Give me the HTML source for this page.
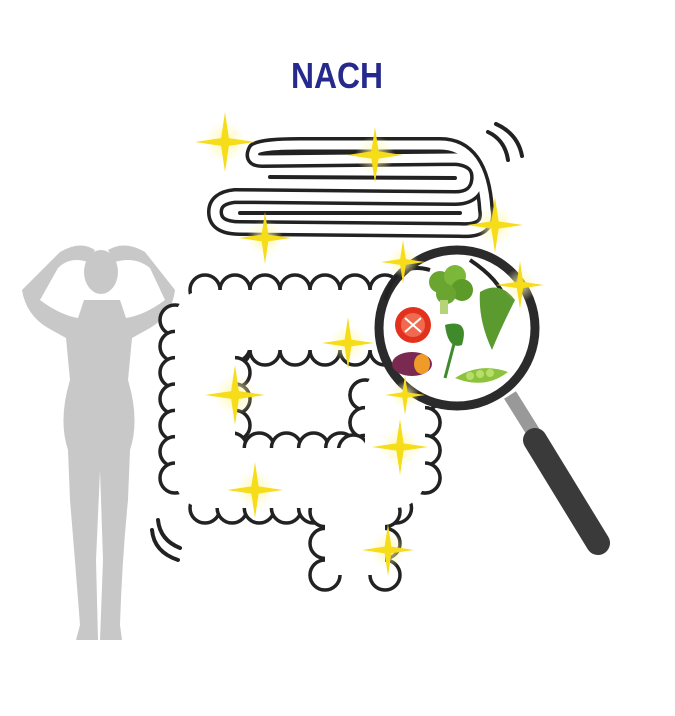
<!DOCTYPE html>
<html><head><meta charset="utf-8">
<style>
html,body{margin:0;padding:0;background:#fff;}
svg{display:block;}
</style></head>
<body>
<svg id="art" width="675" height="716" viewBox="0 0 675 716" xmlns="http://www.w3.org/2000/svg">
<defs>
<radialGradient id="glow"><stop offset="0" stop-color="#fff8b0" stop-opacity="0.9"/><stop offset="1" stop-color="#fff8b0" stop-opacity="0"/></radialGradient>
</defs>
<rect width="675" height="716" fill="#fff"/>
<text x="337" y="88" text-anchor="middle" textLength="92" lengthAdjust="spacingAndGlyphs" font-family="Liberation Sans, sans-serif" font-weight="bold" font-size="36" fill="#262a8c">NACH</text>

<!-- silhouette -->
<g fill="#c8c8c8">
<ellipse cx="101" cy="272" rx="17" ry="22"/>
<path d="M60 252 Q80 240 95 250 L88 262 Q70 256 58 268 L40 300 Q60 315 78 318 L84 300 L120 300 L126 318 Q145 315 165 300 L150 268 Q135 256 115 262 L108 250 Q125 240 145 252 L175 290 Q172 315 150 328 L132 338 L128 380 Q140 420 130 450 L128 500 Q122 560 120 625 L122 640 L100 640 L103 560 L100 470 L96 560 L98 640 L76 640 L80 625 Q75 560 70 500 L68 450 Q58 420 70 380 L66 338 L48 328 Q26 315 22 290 Z"/>
</g>

<!-- motion lines -->
<g fill="none" stroke="#222" stroke-width="4" stroke-linecap="round">
<path d="M488 132 Q505 140 508 160"/><path d="M496 124 Q518 134 522 156"/>
<path d="M158 520 Q160 540 180 548"/><path d="M152 530 Q154 552 178 560"/>
</g>

<!-- small intestine -->
<g fill="none" stroke-linecap="round" stroke-linejoin="round">
<path d="M255 150 Q250 160 262 160 L455 158 Q480 160 478 180 Q476 198 455 198 L235 196 Q215 198 215 212 Q215 228 240 228 L460 230 Q490 232 486 210 Q482 145 440 145 L300 145 Q262 145 255 150" stroke="#222" stroke-width="16"/>
<path d="M255 150 Q250 160 262 160 L455 158 Q480 160 478 180 Q476 198 455 198 L235 196 Q215 198 215 212 Q215 228 240 228 L460 230 Q490 232 486 210 Q482 145 440 145 L300 145 Q262 145 255 150" stroke="#fff" stroke-width="9"/>
<path d="M240 213 L460 213" stroke="#222" stroke-width="4"/>
<path d="M270 177 L455 178" stroke="#222" stroke-width="4"/>
</g>

<!-- large intestine -->
<g id="colon"></g>

<!-- magnifier -->
<g>
<line x1="510" y1="395" x2="535" y2="435" stroke="#999" stroke-width="14"/>
<line x1="535" y1="440" x2="598" y2="543" stroke="#3a3a3a" stroke-width="24" stroke-linecap="round"/>
<circle cx="457" cy="328" r="78" fill="#fff" stroke="#2b2b2b" stroke-width="9"/>
<path d="M385 300 Q395 260 430 270 M470 260 Q500 280 505 300" stroke="#222" stroke-width="4" fill="none"/>
<g><circle cx="440" cy="282" r="11" fill="#6aa532"/><circle cx="455" cy="276" r="11" fill="#7bb83a"/><circle cx="462" cy="290" r="11" fill="#5c9a2a"/><circle cx="446" cy="294" r="10" fill="#6aa532"/><rect x="440" y="300" width="8" height="14" fill="#b7d37a"/></g>
<g><circle cx="413" cy="325" r="18" fill="#e2321d"/><circle cx="413" cy="325" r="12" fill="#f06a50"/><path d="M405 318 L421 332 M421 318 L405 332" stroke="#fff" stroke-width="2"/></g>
<g><path d="M480 292 Q500 280 515 300 Q500 330 492 350 Q478 320 480 292Z" fill="#5a9a2e"/><path d="M445 325 Q470 318 462 345 Q448 350 445 325Z" fill="#3f8a2a"/><line x1="455" y1="340" x2="445" y2="378" stroke="#3f8a2a" stroke-width="3"/></g>
<g><ellipse cx="412" cy="364" rx="20" ry="12" fill="#7a2a50"/><ellipse cx="422" cy="364" rx="8" ry="10" fill="#f09a2a"/></g>
<g><path d="M455 378 Q480 362 508 372 Q485 390 455 378Z" fill="#8cc23c"/><circle cx="470" cy="376" r="4" fill="#b8de6a"/><circle cx="480" cy="374" r="4" fill="#b8de6a"/><circle cx="490" cy="373" r="4" fill="#b8de6a"/></g>
</g>

<g id="stars"></g>
</svg>
<script>
const NS='http://www.w3.org/2000/svg';
const colon=document.getElementById('colon');
const pts=[[385,320],[205,320],[205,478],[395,478],[395,395],[395,478],[355,480],[355,575]];
function mk(t,a){const e=document.createElementNS(NS,t);for(const k in a)e.setAttribute(k,a[k]);return e;}
for(let i=0;i<pts.length-1;i++){
  const [x1,y1]=pts[i],[x2,y2]=pts[i+1];
  const L=Math.hypot(x2-x1,y2-y1);if(!L)continue;
  const nx=-(y2-y1)/L,ny=(x2-x1)/L;
  const n=Math.max(1,Math.round(L/28));
  for(let j=0;j<=n;j++){
    const t=j/n,cx=x1+(x2-x1)*t,cy=y1+(y2-y1)*t;
    for(const s of [1,-1]){
      const c=mk('circle',{cx:cx+nx*s*30,cy:cy+ny*s*30,r:15,fill:'#fff',stroke:'#222','stroke-width':3.5});
      
      
      colon.appendChild(c);
    }
  }
}
const d='M'+pts.map(p=>p.join(' ')).join(' L');
const tube=mk('path',{d:d,fill:'none',stroke:'#fff','stroke-width':60,'stroke-linejoin':'round'});


colon.appendChild(tube);
const stars=document.getElementById('stars');
const S=[[225,142,30],[375,155,28],[495,225,28],[265,238,26],[403,262,22],[520,285,24],[348,343,26],[235,395,30],[405,395,20],[400,447,28],[255,490,28],[388,550,26]];
S.forEach(([x,y,r])=>{
  const g=mk('circle',{cx:x,cy:y,r:r*0.7,fill:'url(#glow)'});
  
  
  stars.appendChild(g);
  const w=r*0.13;
  const p=mk('path',{d:`M${x} ${y-r} L${x+w} ${y-w} L${x+r} ${y} L${x+w} ${y+w} L${x} ${y+r} L${x-w} ${y+w} L${x-r} ${y} L${x-w} ${y-w}Z`,fill:'#f7dc1a'});
  
  
  stars.appendChild(p);
});
</script>
</body></html>
